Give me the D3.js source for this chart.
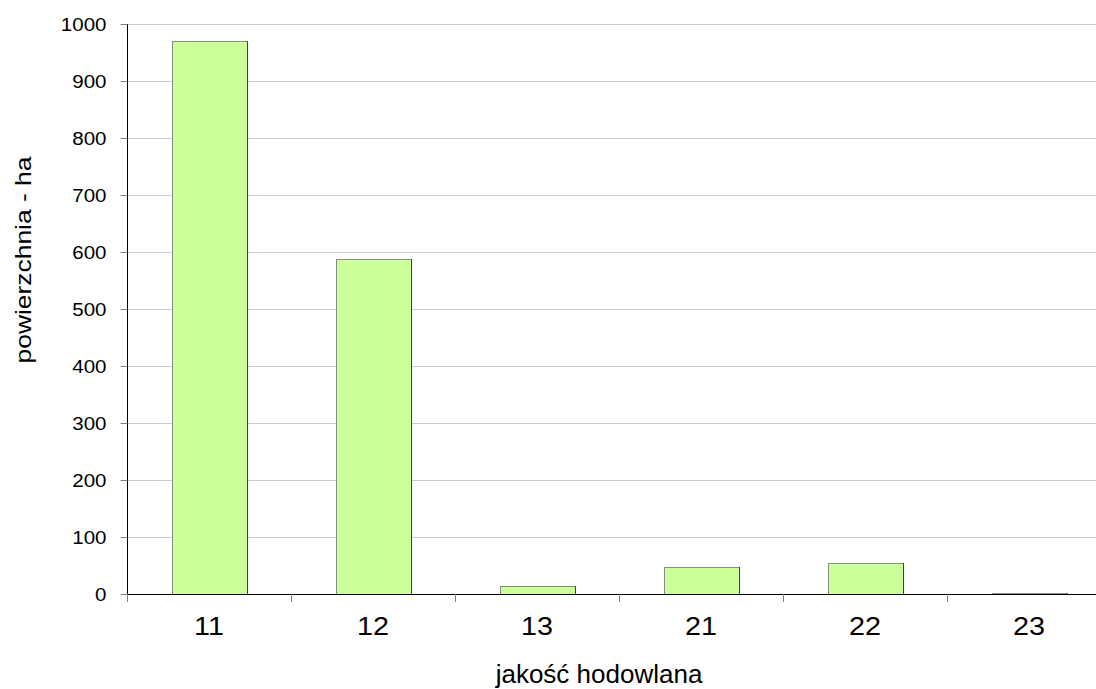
<!DOCTYPE html>
<html><head><meta charset="utf-8">
<script src="https://cdn.jsdelivr.net/npm/d3@7"></script>
<style>body{margin:0;background:#fff}svg{display:block}text{font-family:"Liberation Sans",Arial,sans-serif;fill:#000}</style>
</head><body>
<svg id="c" width="1096" height="689"></svg>
<script>
const categories = ["11","12","13","21","22","23"];
const values = [970, 588, 14, 48, 55, 2];
const yTicks = [0,100,200,300,400,500,600,700,800,900,1000];
const xTitle = "jakość hodowlana";
const yTitle = "powierzchnia - ha";

(function(){
const svg = d3.select("#c");
const mLeft = 127, mTop = 24, mBottom = 594, mRight = 127 + 6*164;
const x = d3.scaleBand().domain(categories).range([mLeft, mRight]).paddingInner(0.545).paddingOuter(0.2725);
const y = d3.scaleLinear().domain([0,1000]).range([mBottom, mTop]);

// gridlines
svg.append("g").selectAll("line").data(yTicks.filter(d=>d>0)).join("line")
  .attr("x1", mLeft).attr("x2", 1096).attr("y1", d=>Math.round(y(d))+0.5).attr("y2", d=>Math.round(y(d))+0.5)
  .attr("stroke", "#cccccc").attr("stroke-width", 1);

// bars
const bars = svg.append("g").selectAll("g").data(categories).join("g");
bars.append("rect")
  .attr("x", d=>Math.round(x(d))+0.5).attr("width", Math.round(x.bandwidth()))
  .attr("y", (d,i)=>Math.round(y(values[i]))+0.5).attr("height", (d,i)=>Math.round(mBottom - y(values[i])))
  .attr("fill", "#ccff99").attr("stroke", "#8a8a8a").attr("stroke-width", 1);
bars.append("line")
  .attr("x1", d=>Math.round(x(d))+Math.round(x.bandwidth())+0.5).attr("x2", d=>Math.round(x(d))+Math.round(x.bandwidth())+0.5)
  .attr("y1", (d,i)=>Math.round(y(values[i]))).attr("y2", mBottom)
  .attr("stroke", "#404040").attr("stroke-width", 1);

// y axis
const ya = d3.axisLeft(y).tickValues(yTicks).tickFormat(d3.format("d")).tickSize(7).tickPadding(13);
const gy = svg.append("g").attr("transform", `translate(${mLeft+0.5},0)`).call(ya);
gy.select(".domain").attr("stroke", "#000").attr("d", `M0,${mTop}V${mBottom}`);
gy.selectAll(".tick line").attr("stroke", "#808080");
gy.selectAll("text").attr("x", 0).attr("dy", "0.35em")
  .attr("transform", "translate(-21,0) scale(1.08,1)")
  .style("font-size", "19px").style("font-family", "'Liberation Sans', Arial, sans-serif").attr("fill", "#000");

// x axis with ticks at band boundaries
const step = x.step();
svg.append("line").attr("x1", mLeft).attr("x2", 1096).attr("y1", mBottom+0.5).attr("y2", mBottom+0.5).attr("stroke", "#000");
const bounds = d3.range(categories.length+1).map(i => mLeft + i*step);
svg.append("g").selectAll("line").data(bounds).join("line")
  .attr("x1", d=>Math.round(d)+0.5).attr("x2", d=>Math.round(d)+0.5)
  .attr("y1", mBottom).attr("y2", mBottom+8).attr("stroke", "#808080");
svg.append("g").selectAll("text").data(categories).join("text")
  .attr("transform", d=>`translate(${x(d)+x.bandwidth()/2},635) scale(1.15,1)`)
  .attr("text-anchor", "middle").style("font-size", "25px").text(d=>d);

// titles
svg.append("text").attr("transform", "translate(599,683)").attr("text-anchor", "middle").style("font-size", "26px").text(xTitle);
svg.append("text").attr("transform", "translate(31,260) rotate(-90) scale(1.2,1)").attr("text-anchor", "middle").style("font-size", "22px").text(yTitle);
})();
</script>
</body></html>
